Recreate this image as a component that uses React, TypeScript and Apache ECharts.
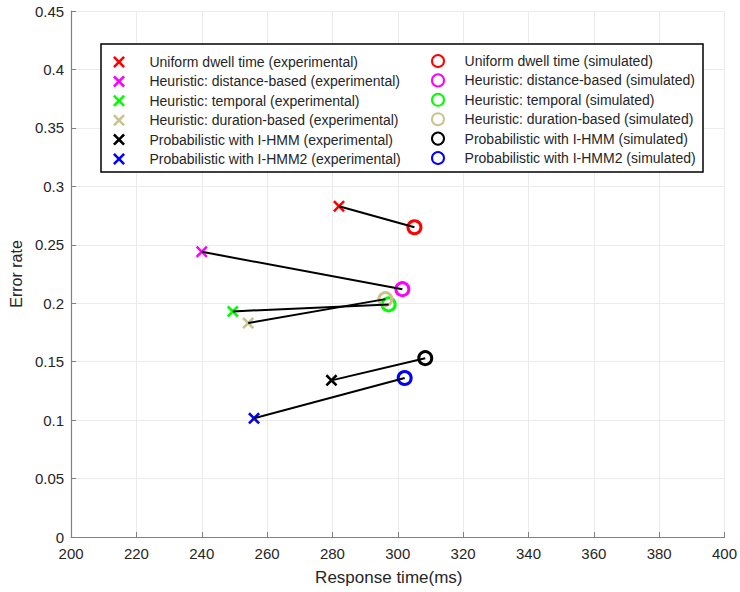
import React, { useEffect, useRef } from "react";
import * as echarts from "echarts";

const methods = [
  "Uniform dwell time",
  "Heuristic: distance-based",
  "Heuristic: temporal",
  "Heuristic: duration-based",
  "Probabilistic with I-HMM",
  "Probabilistic with I-HMM2",
];
const colors = ["#ff0000", "#ff00ff", "#00ff00", "#c8c391", "#000000", "#0000ff"];
const expTime = [282, 240, 249.5, 254.2, 279.7, 256];
const expError = [0.283, 0.244, 0.193, 0.183, 0.134, 0.1015];
const simTime = [305.1, 301.4, 297.2, 296.2, 308.4, 302.1];
const simError = [0.265, 0.212, 0.199, 0.2035, 0.153, 0.136];
const xTicks = [200, 400, 20];
const yTicks = [0, 0.45, 0.05];

const X_SYMBOL =
  "path://M0,1.5L1.5,0L5,3.5L8.5,0L10,1.5L6.5,5L10,8.5L8.5,10L5,6.5L1.5,10L0,8.5L3.5,5Z";

export default function App() {
  const ref = useRef<HTMLDivElement>(null);
  useEffect(() => {
    if (!ref.current) return;
    const chart = echarts.init(ref.current, null, { renderer: "svg" });
    const font = "Liberation Sans, Arial, sans-serif";
    const textColor = "#262626";
    const expNames = methods.map((m) => `${m} (experimental)`);
    const simNames = methods.map((m) => `${m} (simulated)`);
    const series: any[] = [];
    methods.forEach((_, i) => {
      series.push({
        type: "line",
        data: [
          [expTime[i], expError[i]],
          [simTime[i], simError[i]],
        ],
        symbol: "none",
        lineStyle: { color: "#000", width: 2 },
        z: 5,
        silent: true,
      });
    });
    methods.forEach((_, i) => {
      series.push({
        name: expNames[i],
        type: "scatter",
        data: [[expTime[i], expError[i]]],
        symbol: X_SYMBOL,
        symbolSize: 12,
        itemStyle: { color: colors[i], opacity: 1 },
        z: 4,
      });
    });
    methods.forEach((_, i) => {
      series.push({
        name: simNames[i],
        type: "scatter",
        data: [[simTime[i], simError[i]]],
        symbol: "circle",
        symbolSize: 13,
        itemStyle: { color: "rgba(0,0,0,0)", borderColor: colors[i], borderWidth: 3, opacity: 1 },
        z: 4,
      });
    });
    const legendCommon = {
      orient: "vertical",
      itemWidth: 12,
      itemHeight: 12,
      itemGap: 5.4,
      textStyle: { fontFamily: font, fontSize: 14, color: textColor, lineHeight: 14 },
      selectedMode: false,
      padding: 0,
    };
    chart.setOption({
      animation: false,
      backgroundColor: "#fff",
      grid: { left: 71, top: 11, width: 655, height: 526, containLabel: false },
      legend: [
        {
          ...legendCommon,
          left: 113,
          top: 55,
          data: expNames.map((n) => ({ name: n, icon: X_SYMBOL })),
          formatter: (n: string) => "     " + n,
        },
        {
          ...legendCommon,
          left: 431,
          top: 54,
          data: simNames.map((n) => ({ name: n })),
          formatter: (n: string) => "    " + n,
        },
      ],
      graphic: [
        {
          type: "rect",
          shape: { x: 101, y: 44, width: 602, height: 128 },
          style: { fill: "#fff", stroke: "#000", lineWidth: 1.5 },
          z: 1,
          silent: true,
        },
      ],
      xAxis: {
        type: "value",
        min: xTicks[0],
        max: xTicks[1],
        interval: xTicks[2],
        name: "Response time(ms)",
        nameLocation: "middle",
        nameGap: 32,
        nameTextStyle: { fontFamily: font, fontSize: 17, color: textColor, padding: [0, 18, 0, 0] },
        axisLine: { lineStyle: { color: "#808080", width: 1.2 } },
        axisTick: { inside: true, length: 5, lineStyle: { color: "#808080" } },
        axisLabel: { fontFamily: font, fontSize: 15, color: textColor, margin: 9 },
        splitLine: { show: true, lineStyle: { color: "#ebebeb", width: 1 } },
      },
      yAxis: {
        type: "value",
        min: yTicks[0],
        max: yTicks[1],
        interval: yTicks[2],
        name: "Error rate",
        nameLocation: "middle",
        nameGap: 42,
        nameTextStyle: { fontFamily: font, fontSize: 16, color: textColor },
        axisLine: { show: true, lineStyle: { color: "#808080", width: 1.2 } },
        axisTick: { show: true, inside: true, length: 5, lineStyle: { color: "#808080" } },
        axisLabel: {
          fontFamily: font,
          fontSize: 15,
          color: textColor,
          margin: 7,
          formatter: (v: number) => String(parseFloat(v.toFixed(2))),
        },
        splitLine: { show: true, lineStyle: { color: "#ebebeb", width: 1 } },
      },
      series,
    });
    return () => chart.dispose();
  }, []);
  return (
    <div
      ref={ref}
      style={{ width: 740, height: 592, position: "fixed", left: 0, top: 0 }}
    />
  );
}
